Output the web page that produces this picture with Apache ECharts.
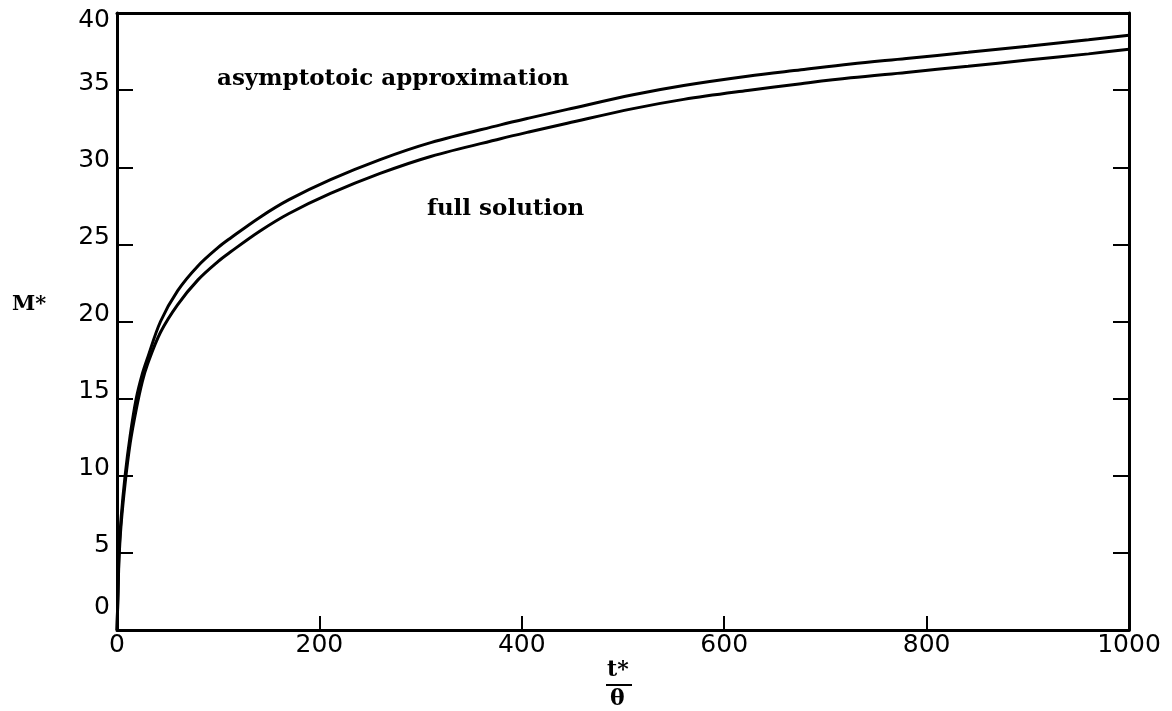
<!DOCTYPE html>
<html><head><meta charset="utf-8">
<script src="https://cdn.jsdelivr.net/npm/echarts@6/dist/echarts.min.js"></script>
<style>html,body{margin:0;padding:0;background:#fff}#c{width:1172px;height:711px}</style>
</head><body><div id="c"></div>
<script>
// t*/theta values
const tVals = [0, 1, 2, 4, 8, 13, 19, 25, 30, 43, 60, 80, 100, 112, 141, 170, 211, 260, 310, 379, 408, 445, 510, 560, 623, 676, 725, 780, 841, 900, 960, 1000];
// asymptotic approximation M*
const asymVals = [0, 2.5, 5, 7.2, 10, 12.6, 15, 16.6, 17.6, 20, 22, 23.6, 24.8, 25.4, 26.75, 27.9, 29.2, 30.5, 31.6, 32.75, 33.2, 33.75, 34.7, 35.3, 35.9, 36.32, 36.7, 37.05, 37.45, 37.85, 38.27, 38.56];
// full solution M*
const fullVals = [0, 2.3, 4.6, 6.8, 9.5, 12.1, 14.3, 16.1, 17.2, 19.3, 21.1, 22.7, 23.9, 24.5, 25.85, 27.0, 28.3, 29.6, 30.7, 31.85, 32.3, 32.85, 33.8, 34.4, 34.98, 35.42, 35.8, 36.15, 36.55, 36.95, 37.35, 37.65];
const xTicks = [0, 200, 400, 600, 800, 1000];
const yTicks = [0, 5, 10, 15, 20, 25, 30, 35, 40];
const labelAsym = 'asymptotoic approximation';
const labelFull = 'full solution';
const yName = 'M*';
const xNameTop = 't*';
const xNameBottom = 'θ';

const pairs = (ys) => tVals.map((t, i) => [t, ys[i]]);
const chart = echarts.init(document.getElementById('c'), null, {renderer: 'canvas'});
const tickFont = {fontFamily: '"DejaVu Sans", sans-serif', fontSize: 25, color: '#000'};
const serifBold = '"DejaVu Serif", serif';
const baseY = {
  type: 'value', min: 0, max: 40, interval: 5, position: 'left',
  splitLine: {show: false}, axisLine: {show: false}, axisTick: {show: false}
};
chart.setOption({
  animation: false,
  grid: {left: 117, right: 43, top: 13, bottom: 81, containLabel: false},
  xAxis: [{
    type: 'value', min: 0, max: 1000, interval: 200, position: 'bottom',
    splitLine: {show: false},
    axisLine: {show: true, onZero: false, lineStyle: {color: '#000', width: 3}},
    axisTick: {show: true, inside: true, length: 14, lineStyle: {color: '#000', width: 2}},
    axisLabel: Object.assign({margin: 3, formatter: (v) => xTicks.includes(v) ? String(v) : ''}, tickFont)
  }, {
    type: 'value', min: 0, max: 1000, position: 'top',
    splitLine: {show: false},
    axisLine: {show: true, onZero: false, lineStyle: {color: '#000', width: 3}},
    axisTick: {show: false}, axisLabel: {show: false}
  }],
  yAxis: [
    Object.assign({}, baseY, {
      axisLine: {show: true, onZero: false, lineStyle: {color: '#000', width: 3}},
      axisTick: {show: true, inside: true, length: 16, lineStyle: {color: '#000', width: 2}},
      axisLabel: Object.assign({margin: 7, verticalAlign: 'bottom', lineHeight: 14,
        formatter: (v) => (v > 0 && v < 40 && yTicks.includes(v)) ? String(v) : ''}, tickFont)
    }),
    Object.assign({}, baseY, {
      axisLabel: Object.assign({margin: 7, verticalAlign: 'bottom', lineHeight: 46,
        formatter: (v) => v === 0 ? '0' : ''}, tickFont)
    }),
    Object.assign({}, baseY, {
      axisLabel: Object.assign({margin: 7, verticalAlign: 'top', lineHeight: 14,
        formatter: (v) => v === 40 ? '40' : ''}, tickFont)
    }),
    Object.assign({}, baseY, {
      position: 'right',
      axisLine: {show: true, onZero: false, lineStyle: {color: '#000', width: 3}},
      axisTick: {show: true, inside: true, length: 16, lineStyle: {color: '#000', width: 2}},
      axisLabel: {show: false}
    })
  ],
  series: [{
    type: 'line', name: labelAsym, data: pairs(asymVals), xAxisIndex: 0, yAxisIndex: 0,
    showSymbol: false, smooth: 0.35, lineStyle: {color: '#000', width: 3}
  }, {
    type: 'line', name: labelFull, data: pairs(fullVals), xAxisIndex: 0, yAxisIndex: 0,
    showSymbol: false, smooth: 0.35, lineStyle: {color: '#000', width: 3}
  }],
  graphic: [
    {type: 'text', left: 217, top: 68, style: {text: labelAsym, font: 'bold 23px ' + serifBold, fill: '#000'}},
    {type: 'text', left: 427, top: 198, style: {text: labelFull, font: 'bold 23px ' + serifBold, fill: '#000'}},
    {type: 'text', left: 12, top: 294, style: {text: yName, font: 'bold 21px ' + serifBold, fill: '#000'}},
    {type: 'text', left: 607, top: 659, style: {text: xNameTop, font: 'bold 22px ' + serifBold, fill: '#000'}},
    {type: 'line', shape: {x1: 606, y1: 685, x2: 632, y2: 685}, style: {stroke: '#000', lineWidth: 2}},
    {type: 'text', left: 610, top: 688, style: {text: xNameBottom, font: 'bold 22px ' + serifBold, fill: '#000'}}
  ]
});
</script></body></html>
